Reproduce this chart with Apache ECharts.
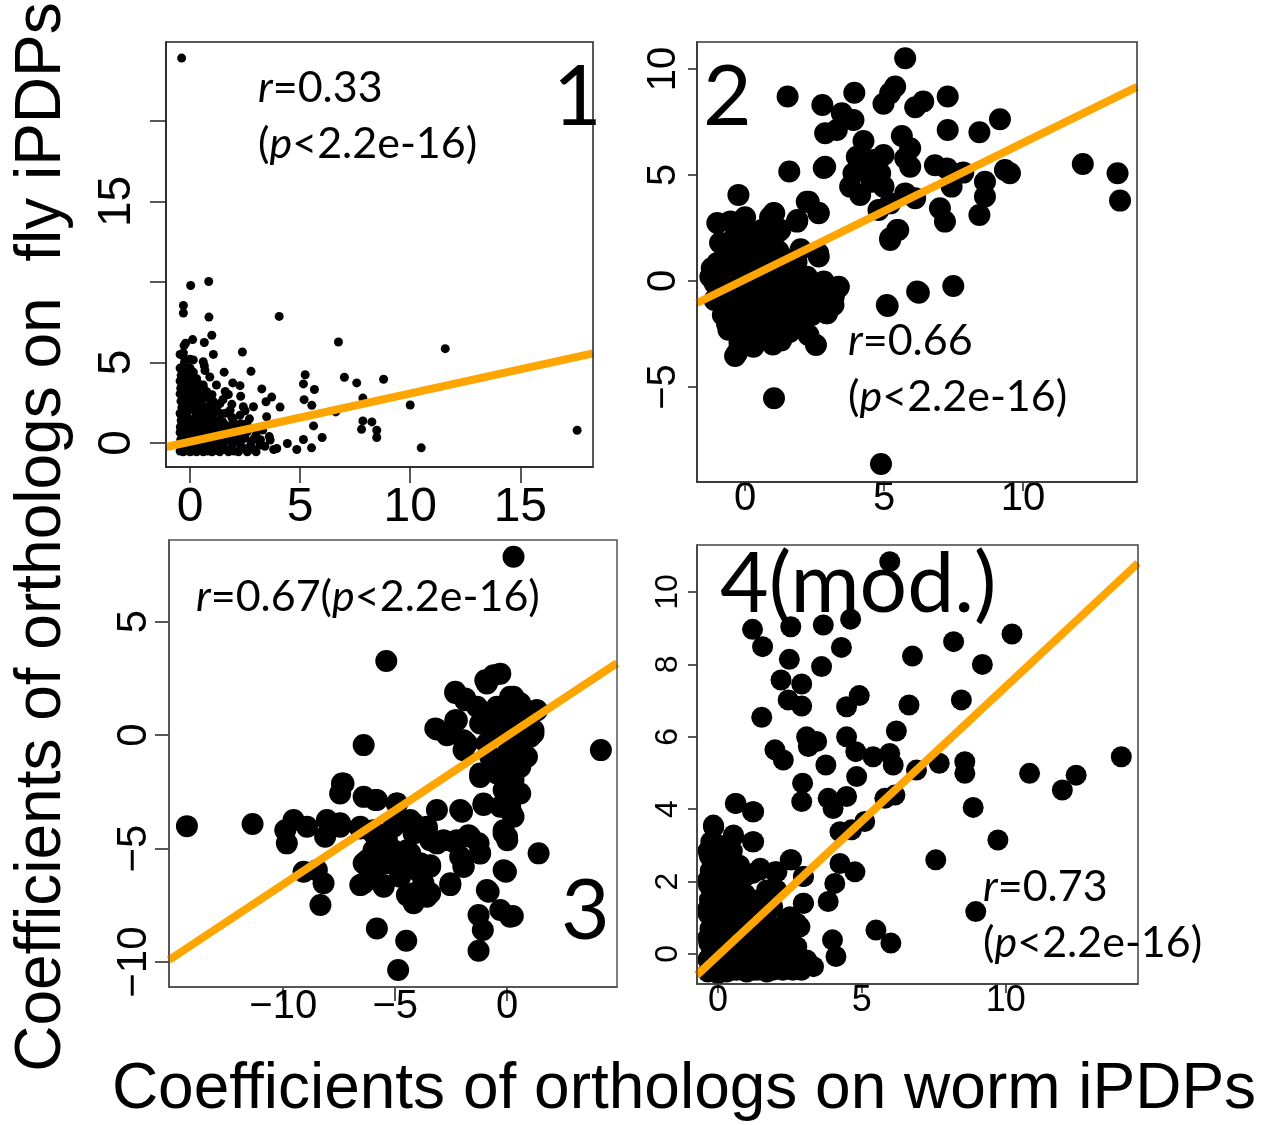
<!DOCTYPE html>
<html>
<head>
<meta charset="utf-8">
<script src="https://cdn.jsdelivr.net/npm/echarts@6/dist/echarts.min.js"></script>
<style>
html,body{margin:0;padding:0;background:#fff;}
#chart{width:1263px;height:1125px;}
</style>
</head>
<body>
<div id="chart"></div>
<script>
// ---------- DATA ----------
const xTitle = 'Coefficients of orthologs on worm iPDPs';
const yTitle = 'Coefficients of orthologs on  fly iPDPs';

// Panel 1
const p1Range = {xMin: -1.09, xMax: 18.3, yMin: -1.49, yMax: 24.9};
const p1XTicks = [0, 5, 10, 15];
const p1YTicks = [0, 5, 10, 15, 20];
const p1YLabels = [0, 5, 15];
const p1Fit = [[-1.09, -0.25], [18.3, 5.57]];
const p1Points = [
  [-0.38,23.9],[0.03,9.78],[0.85,10.03],[-0.3,8.54],[-0.3,8.07],[0.86,7.82],[4.05,7.86],[6.74,6.27],[11.59,5.86],
  [0.99,6.69],[0.12,6.42],[0.65,6.24],[2.38,5.65],[1.06,5.5],[-0.27,6.05],[-0.33,5.43],[0.15,5.16],[0.6,5.05],
  [0.68,4.5],[0.0,4.6],[1.55,4.4],[2.77,4.45],[5.23,4.24],[7.01,4.08],[7.57,3.73],[8.79,3.96],[5.15,3.67],[5.65,3.32],
  [1.94,3.73],[2.27,3.56],[3.26,3.36],[1.74,3.01],[3.71,2.85],[3.45,2.56],[4.09,2.23],[5.18,2.69],[5.53,2.34],[7.85,2.79],
  [10.0,2.36],[6.62,1.93],[5.61,1.06],[7.85,1.37],[8.26,1.31],[8.48,0.79],[8.48,0.34],[7.79,0.85],[6.0,0.34],[10.5,-0.3],
  [17.58,0.79],[5.52,-0.3],[5.15,0.22],[4.85,-0.4],[4.42,-0.03],[3.94,-0.34],[3.64,0.18],[3.18,-0.13],[2.7,-0.34],
  [1.36,2.45],[0.45,3.18],[0.38,3.69],[1.82,2.04],[2.42,2.25],[2.88,2.25],[2.27,1.73],[3.48,1.63],[2.58,1.21],
  [-0.45,-0.5],[-0.4,-0.2],[-0.42,0.2],[-0.38,0.6],[-0.44,1.0],[-0.4,1.4],[-0.43,1.8],[-0.37,2.2],[-0.41,2.6],[-0.39,3.0],
  [-0.42,3.4],[-0.36,3.8],[-0.4,4.2],[-0.38,4.6],[-0.1,-0.45],[-0.15,0.1],[-0.12,0.5],[-0.18,0.9],[-0.1,1.3],[-0.2,1.7],
  [-0.08,2.1],[-0.15,2.5],[-0.05,2.9],[-0.2,3.3],[-0.12,3.7],[-0.25,5.0],[0.1,-0.5],[0.15,-0.1],[0.12,0.3],[0.2,0.7],
  [0.08,1.1],[0.18,1.5],[0.25,1.9],[0.1,2.3],[0.3,2.7],[0.05,3.1],[0.35,3.5],[0.4,-0.4],[0.45,0.0],[0.5,0.4],[0.42,0.8],
  [0.55,1.2],[0.48,1.6],[0.6,2.0],[0.52,2.4],[0.7,2.8],[0.8,-0.5],[0.9,-0.2],[0.85,0.3],[1.0,0.6],[0.95,1.0],[1.1,1.4],
  [1.2,-0.45],[1.3,0.0],[1.25,0.5],[1.4,0.9],[1.5,1.3],[1.6,-0.4],[1.7,0.2],[1.65,0.6],[1.8,1.0],[1.9,1.6],[2.0,-0.5],
  [2.1,0.1],[2.05,0.4],[2.2,0.8],[2.3,1.2],[2.4,-0.3],[2.5,0.3],[2.6,0.7],[2.8,0.1],[2.9,-0.4],[3.0,0.5],[3.2,0.2],
  [3.4,-0.2],[3.6,0.4],[3.8,-0.4],[3.3,0.8],[2.7,1.5],[1.3,1.9],[0.9,2.3],[1.05,2.6],[0.75,3.2],[1.0,3.0],[0.6,3.6],
  [0.3,4.0],[0.15,4.4],[0.0,5.2],[-0.3,5.6],[-0.2,6.2],[0.65,4.8],[0.9,4.1],[1.2,3.6],[1.5,2.7],[2.5,2.0],[1.9,2.4],
  [2.3,2.9],[1.6,3.2],
  [-0.3,-0.55],[0.0,-0.55],[0.3,-0.55],[0.6,-0.55],[1.0,-0.55],[1.35,-0.55],[1.75,-0.55],[2.2,-0.55],[2.6,-0.55],[3.0,-0.55],
  [-0.45,-0.15],[-0.2,-0.15],[0.25,-0.15],[0.55,-0.15],[0.75,-0.15],[1.1,-0.15],[1.5,-0.15],[1.9,-0.15],[2.3,-0.15],[2.75,-0.15],
  [-0.25,0.25],[0.05,0.25],[0.35,0.25],[0.7,0.25],[1.15,0.25],[1.45,0.25],[1.85,0.25],[2.35,0.25],[2.9,0.25],
  [-0.45,0.65],[-0.05,0.65],[0.25,0.65],[0.6,0.65],[0.9,0.65],[1.2,0.65],[1.55,0.65],[1.95,0.65],[2.4,0.65],
  [-0.25,1.05],[0.1,1.05],[0.35,1.05],[0.7,1.05],[1.3,1.05],[1.7,1.05],[2.1,1.05],
  [-0.2,1.45],[0.05,1.45],[0.3,1.45],[0.8,1.45],[1.0,1.45],[1.35,1.45],[1.95,1.45],
  [-0.45,1.85],[-0.15,1.85],[0.45,1.85],[0.75,1.85],[1.05,1.85],[1.6,1.85],
  [-0.2,2.25],[0.35,2.25],[0.8,2.25],[1.2,2.25],[-0.3,2.65],[0.05,2.65],[0.5,2.65],[0.95,2.65],
  [-0.45,3.05],[0.2,3.05],[0.45,3.05],[-0.25,3.45],[0.1,3.45],[0.6,3.45],[-0.45,3.85],[-0.1,3.85],[0.2,3.85],
  [-0.2,4.25],[0.1,4.25],[-0.45,4.65],[0.0,4.65],[-0.45,5.5]
];

// Panel 2
const p2Range = {xMin: -1.73, xMax: 14.1, yMin: -9.48, yMax: 11.27};
const p2XTicks = [0, 5, 10];
const p2YTicks = [-5, 0, 5, 10];
const p2Fit = [[-1.73, -1.04], [14.1, 9.15]];
const p2Points = [
  [5.76,10.5],[1.53,8.7],[3.93,8.88],[2.78,8.3],[5.4,9.17],[5.22,8.86],[4.98,8.36],[6.41,8.46],[6.12,8.19],[7.29,8.7],
  [9.17,7.63],[7.29,7.12],[8.43,7.01],[3.48,7.91],[3.9,7.59],[2.88,6.97],[3.3,7.12],[4.26,6.6],[5.64,6.84],[5.94,6.26],
  [4.98,5.94],[5.76,5.79],[5.94,5.39],[2.88,5.39],[1.59,5.16],[6.83,5.46],[7.26,5.31],[7.85,5.11],[9.53,5.08],[9.35,5.23],
  [12.15,5.52],[13.4,5.08],[13.49,3.79],[8.63,4.68],[8.63,3.98],[8.43,3.11],[7.43,4.45],[7.01,3.43],[7.19,2.8],[6.12,3.9],
  [5.76,4.13],[5.22,3.66],[4.8,3.35],[5.51,2.4],[5.22,2.01],[3.78,4.45],[4.14,4.06],[4.56,4.68],[4.98,4.45],[4.02,5.86],
  [4.38,5.55],[3.9,5.08],[4.86,5.08],[4.62,5.71],[-0.24,4.06],[2.22,3.74],[2.64,3.22],[1.88,2.88],[1.05,3.19],[1.2,2.33],
  [2.63,1.31],[3.36,-0.3],[3.18,-1.13],[2.94,-1.52],[2.28,-2.55],[2.55,-3.02],[5.13,-1.18],[6.25,-0.55],[7.49,-0.24],
  [-0.36,-3.54],[1.04,-5.53],[4.89,-8.63],[2.83,5.33],[1.03,3.2],[2.29,3.74],[2.65,3.19],[1.87,2.8],[1.27,2.41],
  [-0.53,2.8],[-1.0,2.73],[-0.29,2.41],[-0.54,1.79],[0.18,2.26],[0.67,1.79],[1.03,1.46],[2.65,1.15],[-1.0,0.85],
  [-1.25,0.2],[-0.65,0.67],[-0.05,1.15],[0.54,0.99],[1.62,0.52],[2.23,0.2],[2.83,-0.03],[3.37,-0.27],[3.19,-0.74],
  [2.95,-1.52],[1.87,-0.11],[1.15,-0.42],[0.07,-0.58],[-0.65,-1.05],[-0.65,-2.0],[-0.17,-1.68],[0.43,-1.21],[1.15,-1.37],
  [1.75,-0.9],[2.11,-0.58],[1.51,-1.68],[0.67,-2.16],[0.07,-2.47],[1.03,-2.63],[0.43,-2.78],[-0.29,-3.4],[5.22,1.93],
  [5.47,2.4],[5.1,-1.13],[6.19,-0.5],
  [-1.2,0.6],[-1.0,0.3],[-0.8,1.0],[-0.6,1.4],[-0.4,2.0],[-0.2,2.6],[0.0,3.0],[0.2,2.2],[0.4,1.6],[0.6,2.4],[0.8,1.2],
  [1.0,2.0],[1.2,1.4],[-0.9,-0.3],[-0.7,-0.8],[-0.5,-1.3],[-0.3,-0.2],[-0.1,0.4],[0.1,0.9],[0.3,-0.9],[0.5,-0.3],[0.7,0.3],
  [0.9,-0.6],[1.1,0.1],[1.3,0.7],[1.5,-0.2],[1.7,0.4],[1.9,-0.7],[2.1,0.0],[2.3,-1.0],[2.5,-0.5],[2.7,-1.3],[-0.6,-2.3],
  [-0.4,-1.8],[-0.2,-2.9],[0.0,-1.4],[0.2,-2.0],[0.4,-2.5],[0.6,-1.0],[0.8,-1.8],[1.0,-3.0],[1.2,-2.2],[1.4,-1.0],
  [1.6,-2.4],[1.8,-1.6],[2.0,-2.0],[2.2,-1.4],[0.9,-2.6],[0.3,-3.1],[1.3,-2.8],[-0.8,-1.6],[-1.1,-0.9],[-0.35,0.9],
  [0.55,1.0],[1.4,-0.6],[2.6,-0.2],[2.9,-0.8],[1.15,-1.5],[0.75,-2.2],[0.05,-2.2],[-0.25,-1.1],[0.45,0.2],[-0.05,-0.5],
  [1.6,1.0],[1.85,0.9],
  [-0.9,1.8],[-0.3,1.5],[0.3,1.4],[0.8,0.5],[0.2,0.2],[-0.5,0.2],[-1.1,-0.1],[0.4,-0.4],[1.0,-0.9],[1.7,-1.2],
  [-0.3,-2.3],[0.6,-1.5],[1.3,-2.0],[0.1,-1.0],[2.4,-1.6],[1.9,-0.1],[-0.7,-0.1],[2.0,1.5],[0.9,3.0],[-0.1,1.7]
];

// Panel 3
const p3Range = {xMin: -15.1, xMax: 4.9, yMin: -11.1, yMax: 8.6};
const p3XTicks = [-10, -5, 0];
const p3YTicks = [-10, -5, 0, 5];
const p3Fit = [[-15.1, -9.91], [4.9, 3.17]];
const p3Points = [
  [0.28,7.86],[-5.4,3.27],[-6.41,-0.44],[4.18,-0.66],[-14.3,-4.01],[-11.37,-3.92],[-0.61,2.64],[-0.31,2.71],[-0.98,2.42],
  [-2.32,1.86],[-1.88,1.62],[-2.32,0.66],[-3.14,0.25],[-2.69,0.07],[1.32,1.1],[1.17,0.07],[0.88,-0.95],[0.28,1.69],
  [0.58,1.4],[-1.8,-0.37],[-1.21,-1.84],[0.28,-1.25],[0.21,-2.13],[0.58,-2.57],[0.13,-3.16],[0.28,-3.6],[-1.06,-3.08],
  [-0.16,-4.19],[0.0,-4.63],[1.4,-5.21],[-0.06,-6.02],[-0.83,-6.9],[-0.31,-7.71],[0.25,-7.97],[-1.28,-7.93],[-1.09,-8.59],
  [-1.28,-9.5],[-2.02,-3.38],[-3.14,-3.3],[-2.4,-4.7],[-1.73,-4.41],[-1.28,-4.77],[-1.21,-5.21],[-2.1,-5.36],[-1.95,-5.8],
  [-2.54,-6.61],[-7.38,-2.13],[-7.46,-2.57],[-6.41,-2.72],[-5.89,-2.86],[-4.93,-3.01],[-9.54,-3.74],[-9.91,-4.19],
  [-9.84,-4.77],[-8.94,-4.04],[-8.05,-3.74],[-7.46,-3.88],[-8.13,-4.48],[-6.56,-4.11],[-5.97,-4.33],[-9.09,-6.02],
  [-8.5,-5.95],[-8.2,-6.53],[-8.34,-7.49],[-5.82,-8.52],[-4.51,-9.06],[-4.87,-10.35],[-6.41,-5.65],[-6.56,-6.61],
  [-5.97,-6.09],[-5.37,-5.65],[-5.52,-6.61],[-4.78,-6.24],[-4.18,-7.41],[-3.59,-7.12],[-3.74,-6.53],[-3.44,-5.73],
  [-3.14,-4.77],[-3.59,-4.19],[-4.18,-3.89],[-4.78,-3.74],[-5.37,-4.63],[-5.08,-5.07],[-4.48,-5.07],[-4.18,-5.65],
  [-5.97,-5.07],[-4.48,-7.05],[-3.88,-5.65],[-0.91,2.28],[-2.32,1.91],[-1.88,1.54],[0.13,1.69],[-0.46,1.25],[-1.35,1.25],
  [1.32,1.1],[0.73,0.66],[1.03,-0.07],[1.17,0.22],[-2.25,0.66],[-3.21,0.29],[-2.69,0.0],[-1.95,-0.22],[-1.95,-0.66],
  [-1.21,0.51],[-0.91,-0.37],[-0.16,0.07],[0.13,-0.51],[0.43,0.37],[-0.76,-0.95],[-0.16,-1.25],[0.43,-0.95],[0.58,-1.4],
  [-1.21,-1.69],[-0.46,-1.69],[0.28,-1.98],[-0.16,-2.42],[0.36,-2.57],[-0.31,-3.16],[0.21,-3.45],[-0.01,-4.48],
  [-0.16,-4.33],[-0.16,-5.95],[-0.91,-6.83],[0.13,-8.0],[-1.06,-3.01],[-2.1,-3.3],[-7.46,-4.04],[-7.31,-2.13],
  [-5.82,-2.86],[-4.92,-3.01],[-4.33,-3.74],[-3.59,-4.04],[-3.44,-4.63],[-4.18,-4.33],[-5.08,-4.04],[-6.56,-4.04],
  [-5.97,-4.19],[-6.26,-5.51],[-5.52,-5.21],[-4.92,-5.8],[-6.41,-6.53],[-5.52,-6.68],[-4.33,-5.21],[-3.88,-6.09],
  [-4.18,-6.97],[-3.44,-5.8],[-3.44,-6.97],[-2.54,-6.53],[-2.25,-4.63],[-1.65,-4.48],[-1.21,-5.21],[-1.95,-5.8],
  [-2.84,-4.63],[-0.5,0.9],[-0.2,0.6],[0.3,0.9],[-0.6,0.2],[0.0,-0.8],[0.5,-0.2]
];

// Panel 4
const p4Range = {xMin: -0.73, xMax: 14.6, yMin: -0.83, yMax: 11.3};
const p4XTicks = [0, 5, 10];
const p4YTicks = [0, 2, 4, 6, 8, 10];
const p4Fit = [[-0.73, -0.58], [14.6, 10.8]];
const p4Points = [
  [5.97,10.84],[1.2,8.97],[1.55,8.49],[2.53,9.04],[3.66,9.09],[4.61,9.25],[4.29,8.47],[2.48,8.14],[3.6,7.94],[2.19,7.57],
  [2.91,7.46],[2.44,7.02],[2.91,6.85],[1.52,6.54],[6.76,8.23],[8.19,8.63],[10.22,8.84],[9.19,8.0],[8.46,7.02],[4.91,7.14],
  [4.47,6.83],[6.64,6.88],[6.2,6.16],[3.08,6.0],[3.43,5.87],[3.14,5.73],[4.47,6.0],[1.98,5.64],[2.27,5.36],[4.79,5.59],
  [5.39,5.45],[5.97,5.54],[6.09,5.22],[3.75,5.22],[4.82,4.9],[6.9,5.08],[7.69,5.27],[8.58,5.31],[8.58,4.99],[10.83,4.99],
  [12.45,4.94],[11.97,4.53],[14.02,5.45],[2.94,4.72],[2.91,4.21],[3.83,4.3],[4.0,4.02],[4.47,4.35],[5.8,4.3],[6.15,4.39],
  [8.87,4.05],[0.63,4.16],[1.2,3.93],[9.73,3.15],[5.1,3.66],[4.64,3.43],[4.24,3.38],[7.57,2.6],[-0.16,3.56],[0.53,3.24],
  [1.2,3.1],[2.56,2.6],[1.46,2.32],[1.98,2.27],[4.24,2.5],[4.76,2.27],[2.97,2.14],[4.06,1.95],[3.83,1.45],[2.97,1.4],
  [8.96,1.17],[5.49,0.66],[6.01,0.3],[3.98,0.39],[4.1,-0.07],[3.08,-0.26],[2.85,0.75],[2.5,1.03],[2.04,1.77],[1.69,1.77],
  [1.2,2.22],
  [-0.35,-0.5],[-0.3,-0.1],[-0.32,0.3],[-0.28,0.7],[-0.34,1.1],[-0.3,1.5],[-0.33,1.9],[-0.27,2.3],[-0.3,2.7],[-0.25,3.1],
  [-0.15,3.5],[0.0,-0.55],[0.05,-0.2],[0.0,0.2],[0.05,0.6],[-0.02,1.0],[0.06,1.4],[0.0,1.8],[0.05,2.2],[0.0,2.6],[0.1,3.0],
  [0.3,-0.5],[0.35,-0.1],[0.3,0.3],[0.38,0.7],[0.32,1.1],[0.35,1.5],[0.3,1.9],[0.4,2.3],[0.3,2.8],[0.54,3.29],[0.65,-0.45],
  [0.7,0.0],[0.6,0.4],[0.75,0.8],[0.65,1.2],[0.7,1.6],[0.6,2.0],[0.55,2.5],[1.0,-0.5],[1.05,-0.1],[0.95,0.3],[1.1,0.7],
  [1.0,1.1],[1.2,1.5],[1.35,-0.45],[1.4,0.0],[1.5,0.4],[1.3,0.9],[1.7,-0.5],[1.8,-0.05],[1.75,0.5],[1.6,1.0],[2.0,-0.4],
  [2.1,0.1],[2.2,0.6],[2.4,-0.3],[2.5,0.3],[2.7,-0.2],[1.9,1.3],[1.47,2.37],[2.05,2.27],[2.51,2.6],[2.97,2.14],[1.82,1.77],
  [2.4,0.94],[2.97,1.4],[2.74,0.85],[3.09,-0.17],[3.32,-0.35],[2.28,0.2],[1.59,0.02],[0.77,-0.35],[2.74,0.2],[1.24,3.1],
  [0.6,4.16],[1.24,3.93],[-0.15,3.52],
  [-0.2,-0.45],[0.15,-0.45],[0.5,-0.45],[0.85,-0.45],[1.2,-0.45],[1.55,-0.45],[1.9,-0.45],[2.25,-0.45],[2.6,-0.45],[2.9,-0.45],
  [-0.35,-0.15],[0.2,-0.15],[0.55,-0.15],[0.9,-0.15],[1.25,-0.15],[1.6,-0.15],[2.0,-0.15],[2.35,-0.15],
  [-0.2,0.15],[0.15,0.15],[0.45,0.15],[0.8,0.15],[1.15,0.15],[1.45,0.15],[1.8,0.15],[2.05,0.15],[2.4,0.15],
  [-0.35,0.45],[0.15,0.45],[0.4,0.45],[0.9,0.45],[1.3,0.45],[1.65,0.45],[1.95,0.45],
  [-0.2,0.85],[0.15,0.85],[0.5,0.85],[0.9,0.85],[1.45,0.85],[1.75,0.85],
  [-0.35,1.25],[0.2,1.25],[0.5,1.25],[0.85,1.25],[1.5,1.25],
  [-0.2,1.65],[0.2,1.65],[0.45,1.65],[0.95,1.65],[-0.35,2.05],[0.25,2.05],[0.85,2.05],
  [-0.2,2.45],[0.2,2.45],[0.75,2.45],[-0.35,2.85],[0.1,2.85],[0.5,2.85]
];

// Annotation texts
const p1Label = 'r=0.33', p1P = '(p<2.2e-16)', p1Num = '1';
const p2Label = 'r=0.66', p2P = '(p<2.2e-16)', p2Num = '2';
const p3Label = 'r=0.67(p<2.2e-16)', p3Num = '3';
const p4Label = 'r=0.73', p4P = '(p<2.2e-16)', p4Num = '4(mod.)';

// ---------- CHART ----------
const FONT = '"Liberation Sans", Arial, Helvetica, sans-serif';
const ANN = 'Lato, "Open Sans", sans-serif';
const fmt = v => String(v).replace('-', '\u2212');

const grids = [
  {left: 166, top: 42, width: 427, height: 425},
  {left: 697, top: 42, width: 440, height: 440},
  {left: 169, top: 540, width: 448, height: 447},
  {left: 697, top: 545, width: 441, height: 439}
];
const panels = [
  {r: p1Range, xt: p1XTicks, yt: p1YTicks, yl: p1YLabels, fit: p1Fit, pts: p1Points, sym: 9,
   xfs: 48, yfs: 46, xm: 17, ym: 26, tl: 16},
  {r: p2Range, xt: p2XTicks, yt: p2YTicks, yl: p2YTicks, fit: p2Fit, pts: p2Points, sym: 22,
   xfs: 40, yfs: 40, xm: -3, ym: 13, tl: 9},
  {r: p3Range, xt: p3XTicks, yt: p3YTicks, yl: p3YTicks, fit: p3Fit, pts: p3Points, sym: 22,
   xfs: 40, yfs: 42, xm: 0, ym: 14, tl: 14},
  {r: p4Range, xt: p4XTicks, yt: p4YTicks, yl: p4YTicks, fit: p4Fit, pts: p4Points, sym: 21,
   xfs: 36, yfs: 32, xm: -1, ym: 13, tl: 9}
];

const xAxis = [], yAxis = [], series = [];
panels.forEach((p, i) => {
  xAxis.push({
    type: 'value', gridIndex: i, min: p.r.xMin, max: p.r.xMax,
    splitLine: {show: false},
    axisLine: {show: true, onZero: false, lineStyle: {color: '#222', width: 1.5}},
    axisTick: {show: true, customValues: p.xt, length: p.tl, lineStyle: {color: '#222', width: 1.5}},
    axisLabel: {customValues: p.xt, fontSize: p.xfs, fontFamily: FONT, color: '#000', margin: p.xm, formatter: fmt}
  });
  yAxis.push({
    type: 'value', gridIndex: i, min: p.r.yMin, max: p.r.yMax,
    splitLine: {show: false},
    axisLine: {show: true, onZero: false, lineStyle: {color: '#222', width: 1.5}},
    axisTick: {show: true, customValues: p.yt, length: p.tl, lineStyle: {color: '#222', width: 1.5}},
    axisLabel: {customValues: p.yl, rotate: 90, fontSize: p.yfs, fontFamily: FONT, color: '#000', margin: p.ym, formatter: fmt}
  });
  series.push({
    type: 'scatter', xAxisIndex: i, yAxisIndex: i, data: p.pts, symbol: 'circle', symbolSize: p.sym,
    itemStyle: {color: '#000', opacity: 1}, z: 2, silent: true
  });
  series.push({
    type: 'line', xAxisIndex: i, yAxisIndex: i, data: p.fit, showSymbol: false, symbol: 'none',
    lineStyle: {color: '#FFA500', width: 8, cap: 'butt'}, z: 3, silent: true, clip: true
  });
});

const rich = {
  i: {fontStyle: 'italic', fontFamily: ANN, fontSize: 43, fill: '#000'},
  n: {fontFamily: ANN, fontSize: 43, fill: '#000'}
};
function ital(s) {
  return s.replace(/^r/, '{i|r}').replace(/\(p/, '({i|p}');
}
function ann(x, y, s) {
  const t = ital(s).replace(/(^|\})([^{]+)(?=\{|$)/g, (m, a, b) => a + '{n|' + b + '}');
  return {type: 'text', x: x, y: y, z: 100,
    style: {text: t, rich: rich, font: '43px ' + ANN, fill: '#000', align: 'left', verticalAlign: 'middle'}};
}
function big(x, y, s) {
  return {type: 'text', x: x, y: y, z: 100,
    style: {text: s, font: '84px ' + ANN, fill: '#000', align: 'left', verticalAlign: 'middle'}};
}

const graphic = [
  {type: 'rect', shape: {x: 166, y: 42, width: 427, height: 425}, style: {fill: 'none', stroke: '#222', lineWidth: 1.5}, z: 50, silent: true},
  {type: 'rect', shape: {x: 697, y: 42, width: 440, height: 440}, style: {fill: 'none', stroke: '#333', lineWidth: 1.5}, z: 50, silent: true},
  {type: 'rect', shape: {x: 169, y: 540, width: 448, height: 447}, style: {fill: 'none', stroke: '#555', lineWidth: 1.5}, z: 50, silent: true},
  {type: 'rect', shape: {x: 697, y: 545, width: 441, height: 439}, style: {fill: 'none', stroke: '#444', lineWidth: 1.5}, z: 50, silent: true},
  ann(258, 88, p1Label), ann(258, 144, p1P), big(553, 98, p1Num),
  ann(848, 341, p2Label), ann(848, 397, p2P), big(703, 98, p2Num),
  ann(196, 597, p3Label), big(561, 912, p3Num),
  ann(983, 887, p4Label), ann(983, 943, p4P), big(720, 585, p4Num),
  {type: 'text', x: 684, y: 1090, z: 100,
   style: {text: xTitle, font: '64px ' + FONT, fill: '#000', align: 'center', verticalAlign: 'middle'}},
  {type: 'text', x: 42, y: 537, rotation: Math.PI / 2, z: 100,
   style: {text: yTitle, font: '64px ' + FONT, fill: '#000', align: 'center', verticalAlign: 'middle'}}
];

const chart = echarts.init(document.getElementById('chart'), null, {renderer: 'canvas'});
chart.setOption({
  animation: false,
  backgroundColor: '#fff',
  grid: grids.map(g => Object.assign({containLabel: false}, g)),
  xAxis: xAxis,
  yAxis: yAxis,
  series: series,
  graphic: graphic
});
</script>
</body>
</html>
